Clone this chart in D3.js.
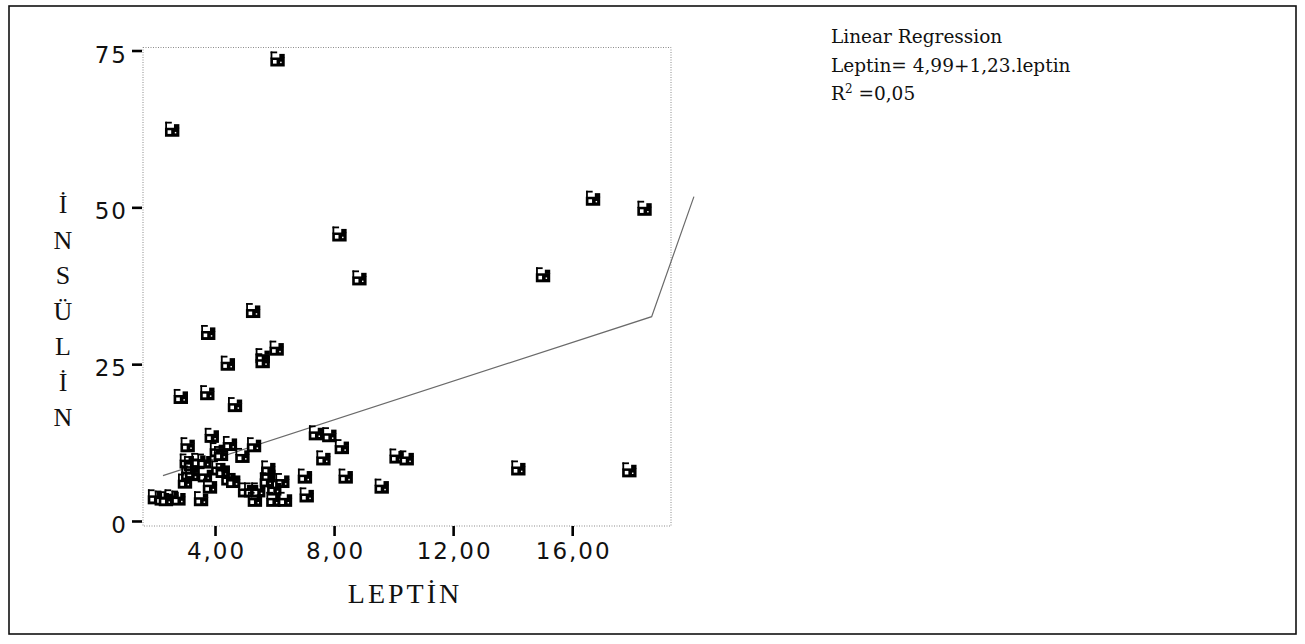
<!DOCTYPE html>
<html>
<head>
<meta charset="utf-8">
<script src="https://cdn.jsdelivr.net/npm/d3@7/dist/d3.min.js"></script>
<style>
  html, body { margin: 0; padding: 0; background: #fff; }
  svg { display: block; }
</style>
</head>
<body>
<svg id="chart" width="1305" height="644"></svg>
<script>
// ---------- data ----------
const leptin = [
  6.10, 2.56, 16.70, 18.43, 8.18, 8.85, 15.02, 5.28, 3.77, 6.07,
  5.60, 5.60, 4.43, 2.85, 3.74, 4.67,
  3.89, 3.08, 4.50, 5.31, 4.06, 4.20, 4.92, 3.05, 3.19, 3.44,
  3.64, 4.11, 3.10, 3.23, 3.66, 4.26, 4.45, 2.99, 3.83, 4.61,
  5.01, 5.21, 5.45, 5.79, 5.79, 5.74, 6.26, 5.99, 5.34, 5.96,
  6.35, 3.53, 1.98, 2.21, 2.54, 2.77, 2.35, 7.39, 7.84, 8.26,
  7.64, 10.10, 10.44, 7.02, 8.39, 9.60, 7.08, 14.19, 17.92
];
const insulin = [
  73.6, 62.4, 51.4, 49.8, 45.7, 38.7, 39.2, 33.5, 30.0, 27.5,
  26.3, 25.5, 25.1, 19.8, 20.4, 18.5,
  13.6, 12.1, 12.3, 12.1, 11.3, 10.7, 10.4, 9.5, 9.1, 9.6,
  9.5, 8.4, 7.6, 7.5, 7.3, 8.0, 6.8, 6.3, 5.5, 6.4,
  4.9, 4.9, 4.9, 8.4, 7.3, 6.5, 6.4, 5.2, 3.4, 3.4,
  3.4, 3.5, 3.8, 3.6, 3.8, 3.6, 3.5, 14.0, 13.7, 11.8,
  10.0, 10.3, 10.0, 7.1, 7.1, 5.5, 4.1, 8.4, 8.1
];
const fitLeptin = [2.25, 18.67, 20.09];
const fitInsulin = [7.24, 32.57, 51.7];

const xTicks = [4, 8, 12, 16];
const xTickLabels = ["4,00", "8,00", "12,00", "16,00"];
const yTicks = [0, 25, 50, 75];
const yTickLabels = ["0", "25", "50", "75"];

const xTitle = "LEPTİN";
const yTitle = ["İ", "N", "S", "Ü", "L", "İ", "N"];
const legendLines = ["Linear Regression", "Leptin= 4,99+1,23.leptin"];
const r2Text = "=0,05";

// ---------- layout ----------
const svg = d3.select("#chart");
const frame = { left: 143, right: 671, top: 47.5, bottom: 526 };

const x = d3.scaleLinear().domain([1.58, 19.32]).range([frame.left, frame.right]);
const y = d3.scaleLinear().domain([-0.8, 75.48]).range([frame.bottom, frame.top]);

// outer border
svg.append("rect")
  .attr("x", 9).attr("y", 6).attr("width", 1287).attr("height", 628)
  .attr("fill", "none").attr("stroke", "#111").attr("stroke-width", 1.6);

// plot frame (dotted light)
svg.append("rect")
  .attr("x", frame.left).attr("y", frame.top)
  .attr("width", frame.right - frame.left).attr("height", frame.bottom - frame.top)
  .attr("fill", "none").attr("stroke", "#8a8a8a").attr("stroke-width", 1)
  .attr("stroke-dasharray", "1,1.5");

// axes
const tickFont = "'DejaVu Sans', Verdana, sans-serif";
const yAxis = d3.axisLeft(y).tickValues(yTicks)
  .tickFormat((d, i) => yTickLabels[i]).tickSize(10).tickPadding(4);
const gy = svg.append("g").attr("transform", `translate(${frame.left - 1},0)`).call(yAxis);
gy.select(".domain").remove();
gy.selectAll(".tick line").attr("stroke", "#000").attr("stroke-width", 2.6);
gy.selectAll(".tick text").attr("font-family", tickFont).attr("font-size", 23)
  .attr("letter-spacing", "2px").attr("fill", "#111").attr("dy", "0.5em");

const xAxis = d3.axisBottom(x).tickValues(xTicks)
  .tickFormat((d, i) => xTickLabels[i]).tickSize(10).tickPadding(7);
const gx = svg.append("g").attr("transform", `translate(0,${frame.bottom})`).call(xAxis);
gx.select(".domain").remove();
gx.selectAll(".tick line").attr("stroke", "#000").attr("stroke-width", 2.6);
gx.selectAll(".tick text").attr("font-family", tickFont).attr("font-size", 23)
  .attr("letter-spacing", "2px").attr("fill", "#111").attr("dx", "1px");

// regression line
const line = d3.line().x(d => x(d[0])).y(d => y(d[1]));
svg.append("path")
  .datum(fitLeptin.map((v, i) => [v, fitInsulin[i]]))
  .attr("d", line).attr("fill", "none")
  .attr("stroke", "#6a6a6a").attr("stroke-width", 1.2);

// markers (small "factory" glyph, as in the reference)
const pts = leptin.map((v, i) => [v, insulin[i]]);
const mk = svg.append("g").selectAll("g.mk").data(pts).join("g")
  .attr("class", "mk")
  .attr("transform", d => `translate(${x(d[0])},${y(d[1])}) scale(1.2)`);
mk.append("rect").attr("x", -6).attr("y", -1.5).attr("width", 12).attr("height", 7.5).attr("fill", "#000");
mk.append("rect").attr("x", 1.5).attr("y", -4.5).attr("width", 4.5).attr("height", 3.5).attr("fill", "#000");
mk.append("rect").attr("x", -5.8).attr("y", -6.5).attr("width", 5.5).attr("height", 1.5).attr("fill", "#000");
mk.append("rect").attr("x", -5.8).attr("y", -6.5).attr("width", 1.5).attr("height", 6).attr("fill", "#000");
mk.append("rect").attr("x", -3.8).attr("y", 0.6).attr("width", 3).attr("height", 3)
  .attr("fill", "#fff");
mk.append("rect").attr("x", 2.2).attr("y", 2).attr("width", 1.2).attr("height", 1.2).attr("fill", "#fff");

// axis titles
const serif = "'Liberation Serif', 'Times New Roman', serif";
svg.append("text")
  .attr("x", 405).attr("y", 603)
  .attr("text-anchor", "middle")
  .attr("font-family", serif).attr("font-size", 28)
  .attr("letter-spacing", "3px")
  .attr("fill", "#111")
  .text(xTitle);

svg.append("g").selectAll("text").data(yTitle).join("text")
  .attr("x", 63).attr("y", (d, i) => 213 + i * 35.5)
  .attr("text-anchor", "middle")
  .attr("font-family", serif).attr("font-size", 26)
  .attr("fill", "#111")
  .text(d => d);

// legend text
const lf = "'DejaVu Serif', 'Liberation Serif', serif";
const lg = svg.append("g");
lg.selectAll("text.l").data(legendLines).join("text")
  .attr("class", "l")
  .attr("x", 831).attr("y", (d, i) => 43 + i * 28.5)
  .attr("font-family", lf).attr("font-size", 18.5).attr("fill", "#111")
  .text(d => d);
const r2 = lg.append("text").attr("x", 831).attr("y", 100)
  .attr("font-family", lf).attr("font-size", 18.5).attr("fill", "#111");
r2.append("tspan").text("R");
r2.append("tspan").attr("font-size", 12).attr("dy", -7).text("2");
r2.append("tspan").attr("dy", 7).text(" " + r2Text);
</script>
</body>
</html>
